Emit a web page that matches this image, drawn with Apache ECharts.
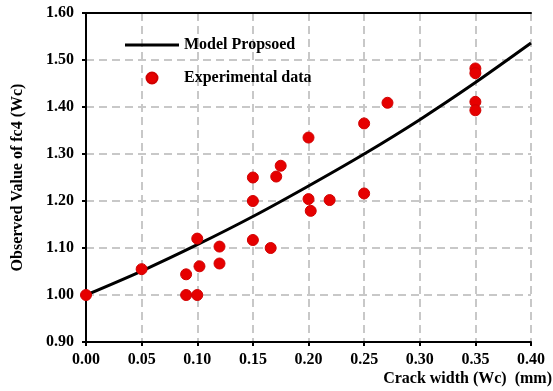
<!DOCTYPE html>
<html><head><meta charset="utf-8">
<script src="https://cdn.jsdelivr.net/npm/echarts@6/dist/echarts.min.js"></script>
<style>html,body{margin:0;padding:0;background:#fff}#c{width:553px;height:391px}</style>
</head><body><div id="c"></div>
<script>
// Experimental data: crack width (mm), observed value
const expX = [0.00,0.05,0.09,0.09,0.10,0.10,0.102,0.12,0.12,0.15,0.15,0.15,0.166,0.171,0.175,0.20,0.20,0.202,0.219,0.25,0.25,0.271,0.35,0.35,0.35,0.35];
const expY = [1.00,1.055,1.044,1.00,1.120,1.00,1.061,1.103,1.067,1.200,1.250,1.117,1.100,1.252,1.275,1.335,1.204,1.179,1.202,1.365,1.216,1.409,1.482,1.472,1.411,1.393];
// Model proposed curve
const modelX = [0.00,0.05,0.10,0.15,0.20,0.25,0.30,0.35,0.40];
const modelY = [1.00,1.051,1.107,1.167,1.232,1.300,1.373,1.452,1.536];
const xTicks = [0.00,0.05,0.10,0.15,0.20,0.25,0.30,0.35,0.40];
const yTicks = [0.90,1.00,1.10,1.20,1.30,1.40,1.50,1.60];

const FONT = '"Liberation Serif","Times New Roman",serif';
const chart = echarts.init(document.getElementById('c'), null, {renderer:'canvas'});
const xMin = xTicks[0], xMax = xTicks[xTicks.length-1];
const yMin = yTicks[0], yMax = yTicks[yTicks.length-1];
const frameAxis = {axisLine:{show:true,lineStyle:{color:'#000',width:2}},axisTick:{show:false},axisLabel:{show:false},splitLine:{show:false}};
chart.setOption({
  animation:false,
  grid:{left:86,right:22,top:13,bottom:49},
  legend:{
    orient:'vertical',left:125,top:37,padding:0,itemGap:17,itemWidth:54,itemHeight:11,
    textStyle:{fontFamily:FONT,fontWeight:'bold',fontSize:16,color:'#000'},
    data:[{name:'Model Propsoed',icon:'path://M0,0H53V3H0Z'},{name:'Experimental data',icon:'circle'}]
  },
  xAxis:[{type:'value',min:xMin,max:xMax,interval:0.05,
    axisLine:{lineStyle:{color:'#000',width:2}},
    axisTick:{show:true,length:4,lineStyle:{color:'#000',width:2}},
    axisLabel:{fontFamily:FONT,fontWeight:'bold',fontSize:16,color:'#000',margin:10,formatter:v=>v.toFixed(2)},
    splitLine:{show:true,lineStyle:{color:'#c8c8c8',type:[8,5],width:2}}
  },Object.assign({type:'value',position:'top',min:xMin,max:xMax},frameAxis)],
  yAxis:[{type:'value',min:yMin,max:yMax,interval:0.1,
    name:'Observed Value of fc4 (Wc)',nameLocation:'middle',nameGap:60,
    nameTextStyle:{fontFamily:FONT,fontWeight:'bold',fontSize:16,color:'#000'},
    axisLine:{lineStyle:{color:'#000',width:2}},
    axisTick:{show:true,length:4,lineStyle:{color:'#000',width:2}},
    axisLabel:{fontFamily:FONT,fontWeight:'bold',fontSize:16,color:'#000',margin:12,formatter:v=>v.toFixed(2)},
    splitLine:{show:true,lineStyle:{color:'#c8c8c8',type:[8,5],width:2}}
  },Object.assign({type:'value',position:'right',min:yMin,max:yMax},frameAxis)],
  graphic:[{type:'text',right:1,top:371,style:{text:'Crack width (Wc)  (mm)',font:'bold 16px '+FONT,fill:'#000'}}],
  series:[
    {name:'Model Propsoed',type:'line',smooth:0.3,symbol:'none',data:modelX.map((x,i)=>[x,modelY[i]]),
     lineStyle:{color:'#000',width:3},itemStyle:{color:'#000'},z:3},
    {name:'Experimental data',type:'scatter',symbol:'circle',symbolSize:11,data:expX.map((x,i)=>[x,expY[i]]),
     itemStyle:{color:'#e60000',borderColor:'#d00000',borderWidth:1,opacity:1},z:4}
  ]
});
</script></body></html>
